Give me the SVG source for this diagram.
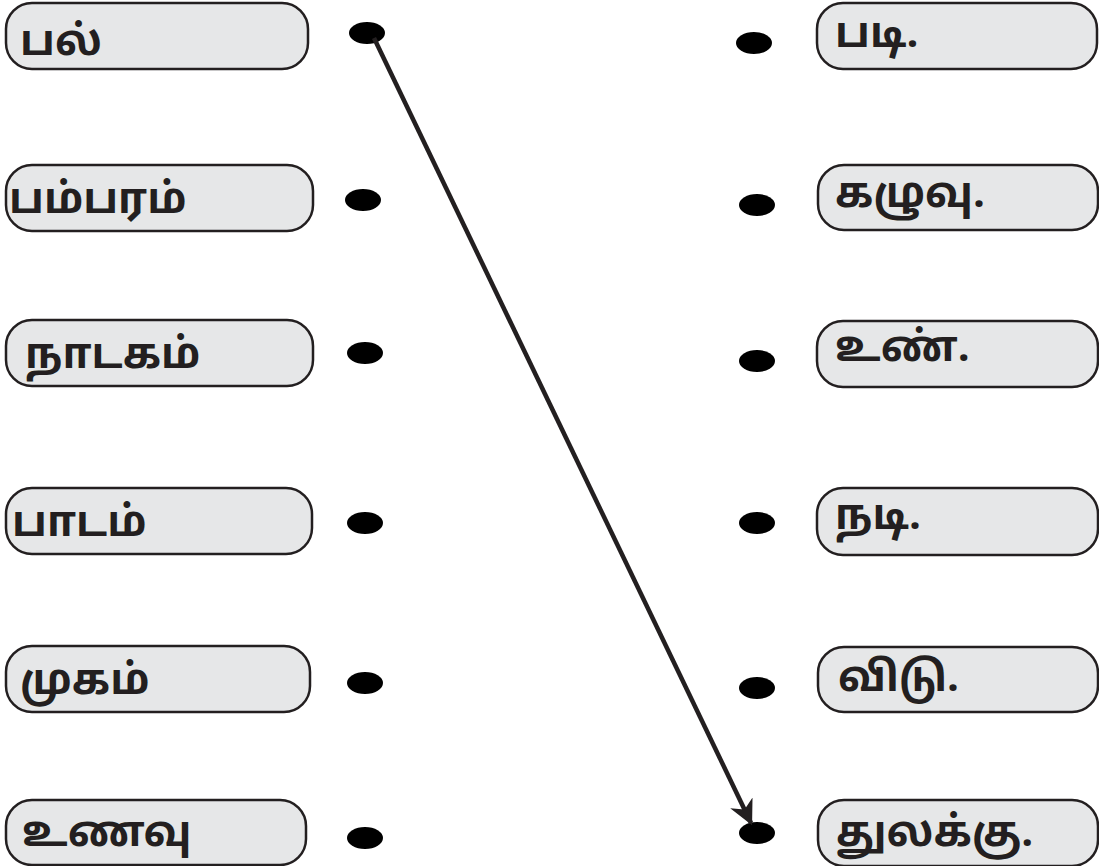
<svg xmlns="http://www.w3.org/2000/svg" width="1099" height="866" viewBox="0 0 1099 866">
<defs>
<style>
.box{fill:#e6e7e8;stroke:#231f20;stroke-width:2.5}
.dot{fill:#000}
.t{font-family:"Noto Sans Tamil","Noto Sans","Liberation Sans",sans-serif;font-weight:bold;font-size:42px;fill:#231f20}
.line{stroke:#231f20;stroke-width:4.5;fill:none}
</style>
<marker id="ah" viewBox="0 0 10 10" refX="9" refY="5" markerWidth="5.5" markerHeight="5.5" markerUnits="strokeWidth" orient="auto">
<path d="M0,0 L10,5 L0,10 L3,5 Z" fill="#231f20"/>
</marker>
</defs>
<rect width="1099" height="866" fill="#fff"/>
<g id="left-1"><rect class="box" x="6" y="3" width="302" height="66" rx="26"/><text class="t" x="20" y="55">பல்</text></g>
<g id="left-2"><rect class="box" x="6" y="165" width="307" height="66" rx="26"/><text class="t" x="9" y="213">பம்பரம்</text></g>
<g id="left-3"><rect class="box" x="6" y="320" width="307" height="66" rx="26"/><text class="t" x="25" y="368">நாடகம்</text></g>
<g id="left-4"><rect class="box" x="6" y="488" width="306" height="66" rx="26"/><text class="t" x="12" y="536">பாடம்</text></g>
<g id="left-5"><rect class="box" x="6" y="646" width="304" height="66" rx="26"/><text class="t" x="20" y="694">முகம்</text></g>
<g id="left-6"><rect class="box" x="6" y="800" width="300" height="65" rx="26"/><text class="t" x="22" y="846">உணவு</text></g>
<g id="left-dots">
<ellipse class="dot" cx="367" cy="33" rx="18" ry="11"/>
<ellipse class="dot" cx="363" cy="200" rx="18" ry="11"/>
<ellipse class="dot" cx="365" cy="353" rx="18" ry="11"/>
<ellipse class="dot" cx="365" cy="523" rx="18" ry="11"/>
<ellipse class="dot" cx="365" cy="683" rx="18" ry="11"/>
<ellipse class="dot" cx="365" cy="838" rx="18" ry="11"/>
</g>
<g id="right-dots">
<ellipse class="dot" cx="754" cy="43" rx="18" ry="11"/>
<ellipse class="dot" cx="757" cy="205" rx="18" ry="11"/>
<ellipse class="dot" cx="757" cy="361" rx="18" ry="11"/>
<ellipse class="dot" cx="757" cy="523" rx="18" ry="11"/>
<ellipse class="dot" cx="757" cy="688" rx="18" ry="11"/>
<ellipse class="dot" cx="757" cy="833" rx="18" ry="11"/>
</g>
<g id="right-1"><rect class="box" x="817" y="3" width="280" height="66" rx="26"/><text class="t" x="835" y="47">படி.</text></g>
<g id="right-2"><rect class="box" x="818" y="165" width="280" height="65" rx="26"/><text class="t" x="835" y="207">கழுவு.</text></g>
<g id="right-3"><rect class="box" x="817" y="321" width="281" height="66" rx="26"/><text class="t" x="835" y="361">உண்.</text></g>
<g id="right-4"><rect class="box" x="817" y="488" width="281" height="67" rx="26"/><text class="t" x="835" y="529">நடி.</text></g>
<g id="right-5"><rect class="box" x="818" y="647" width="280" height="65" rx="26"/><text class="t" x="838" y="691">விடு.</text></g>
<g id="right-6"><rect class="box" x="818" y="800" width="280" height="66" rx="26"/><text class="t" x="836" y="846">துலக்கு.</text></g>
<g id="connectors">
<line class="line" x1="374" y1="38" x2="751" y2="823" marker-end="url(#ah)"/>
</g>
</svg>
